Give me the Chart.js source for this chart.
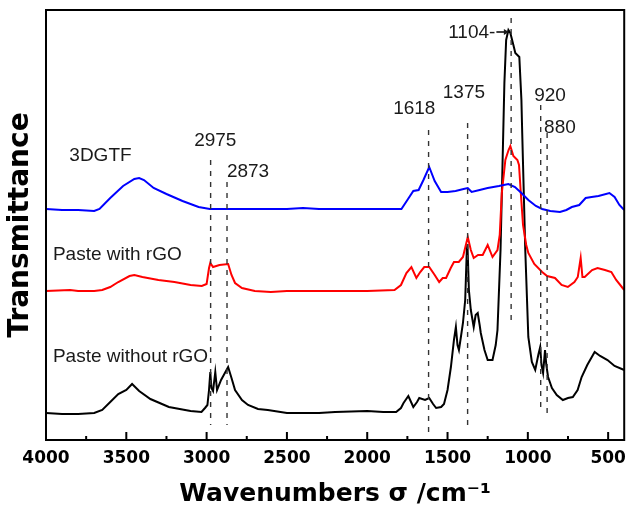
<!DOCTYPE html>
<html>
<head>
<meta charset="utf-8">
<script src="https://cdn.jsdelivr.net/npm/chart.js@4.4.1/dist/chart.umd.min.js"></script>
<style>
  html, body { margin: 0; padding: 0; background: #fff; }
  #wrap { width: 634px; height: 510px; }
</style>
</head>
<body>
<div id="wrap"><canvas id="ftir"></canvas></div>
<script>
'use strict';

// x axis ticks (cm-1)
const xTicks = [4000, 3500, 3000, 2500, 2000, 1500, 1000, 500];
const xMinorTicks = [3750, 3250, 2750, 2250, 1750, 1250, 750];

// 3DGTF (blue), transmittance in a.u.
const gtfWn = [4000, 3900, 3800, 3700, 3667, 3600, 3520, 3450, 3420, 3390, 3330, 3250, 3150, 3050, 2980, 2800, 2500, 2400, 2300, 2100, 1900, 1787, 1750, 1713, 1680, 1650, 1614, 1580, 1540, 1500, 1450, 1400, 1374, 1350, 1300, 1250, 1180, 1121, 1080, 1040, 997, 950, 911, 860, 800, 760, 726, 680, 640, 603, 560, 492, 460, 430, 400];
const gtfT = [231, 230, 230, 229, 231, 242, 254, 261, 262, 260, 252, 246, 239, 233, 231, 231, 231, 232, 231, 231, 231, 231, 240, 249, 250, 260, 273, 259, 248, 248, 249, 251, 252, 248, 250, 252, 254, 256, 253, 247, 240, 234, 231, 229, 228, 230, 233, 235, 242, 243, 244, 247, 243, 235, 230];

// Paste with rGO (red)
const withWn = [4000, 3850, 3800, 3700, 3650, 3600, 3550, 3480, 3450, 3400, 3300, 3200, 3100, 3030, 3000, 2985, 2977, 2960, 2920, 2866, 2845, 2823, 2780, 2700, 2600, 2500, 2300, 2000, 1830, 1790, 1756, 1725, 1694, 1670, 1645, 1614, 1580, 1552, 1530, 1509, 1480, 1460, 1430, 1404, 1374, 1355, 1337, 1310, 1281, 1250, 1220, 1189, 1175, 1162, 1140, 1120, 1109, 1090, 1065, 1055, 1045, 1030, 1010, 997, 960, 911, 880, 831, 790, 751, 710, 689, 671, 660, 646, 600, 566, 520, 480, 450, 400];
const withT = [149, 150, 149, 149, 150, 153, 158, 164, 165, 163, 160, 158, 155, 154, 156, 172, 177, 173, 175, 176, 165, 157, 152, 149, 148, 149, 149, 149, 150, 155, 167, 173, 162, 168, 173, 173, 165, 158, 162, 162, 172, 178, 178, 183, 203, 190, 182, 185, 185, 195, 183, 190, 205, 247, 280, 290, 294, 284, 280, 275, 250, 215, 195, 187, 176, 168, 164, 162, 155, 153, 158, 163, 182, 163, 163, 170, 172, 170, 168, 160, 150];

// Paste without rGO (black)
const withoutWn = [4000, 3900, 3800, 3700, 3650, 3600, 3550, 3500, 3464, 3420, 3350, 3235, 3100, 3032, 3010, 2995, 2985, 2977, 2970, 2960, 2946, 2935, 2910, 2866, 2845, 2823, 2780, 2742, 2680, 2619, 2500, 2300, 2200, 2000, 1900, 1820, 1790, 1774, 1744, 1713, 1690, 1676, 1640, 1614, 1590, 1571, 1540, 1522, 1500, 1479, 1460, 1448, 1438, 1429, 1415, 1404, 1390, 1380, 1376, 1367, 1355, 1337, 1325, 1312, 1300, 1293, 1270, 1250, 1220, 1200, 1189, 1170, 1158, 1146, 1135, 1121, 1109, 1090, 1078, 1053, 1040, 1035, 1016, 997, 975, 954, 935, 923, 915, 905, 893, 885, 874, 850, 820, 782, 750, 720, 690, 665, 630, 584, 550, 504, 460, 400];
const withoutT = [27, 26, 26, 27, 30, 38, 46, 50, 56, 49, 41, 33, 29, 28, 32, 35, 50, 68, 52, 49, 68, 50, 60, 73, 62, 50, 40, 35, 31, 30, 27, 27, 28, 29, 28, 28, 32, 37, 44, 33, 38, 42, 40, 42, 36, 32, 33, 36, 50, 73, 100, 113, 95, 90, 105, 117, 140, 190, 196, 150, 130, 113, 125, 127, 115, 107, 90, 80, 80, 95, 110, 190, 273, 357, 400, 410, 407, 395, 387, 383, 340, 307, 190, 103, 78, 70, 85, 93, 75, 67, 90, 75, 63, 52, 45, 40, 42, 43, 50, 63, 75, 88, 84, 80, 74, 70];

// marked bands: dashed guide lines
const peakWn = [2975, 2873, 1618, 1375, 1104, 920, 880];
const peakTop = [280, 258, 310, 317, 422, 335, 307];
const peakBottom = [15, 15, 4, 10, 115, 30, 24];

// band labels
const peakText = ['2975', '2873', '1618', '1375', '1104-', '920', '880'];
const peakLabelWn = [2946, 2742, 1707, 1398, 1349, 862, 800];
const peakLabelT = [299, 268, 331, 347, 407, 344, 312];

// series names written next to the curves
const seriesNames = ['3DGTF', 'Paste with rGO', 'Paste without rGO'];
const nameWn = [3661, 3957, 3957];
const nameT = [284, 185, 83];

function points(wn, t) {
  return wn.map((w, i) => ({ x: w, y: t[i] }));
}

const guideSets = peakWn.map((w, i) => ({
  label: 'band ' + w,
  data: [{ x: w, y: peakTop[i] }, { x: w, y: peakBottom[i] }],
  borderColor: '#333',
  borderWidth: 1.4,
  borderDash: [5, 6],
  pointRadius: 0
}));

const curveSets = [
  { label: seriesNames[0], data: points(gtfWn, gtfT), borderColor: '#0000ff' },
  { label: seriesNames[1], data: points(withWn, withT), borderColor: '#ff0000' },
  { label: seriesNames[2], data: points(withoutWn, withoutT), borderColor: '#000000' }
].map(d => Object.assign(d, { borderWidth: 2, pointRadius: 0, tension: 0 }));

// frame, inward ticks and in-plot texts
const overlay = {
  id: 'overlay',
  afterDatasetsDraw(chart) {
    const { ctx, chartArea: a, scales: { x, y } } = chart;
    ctx.save();
    ctx.strokeStyle = '#000';
    ctx.lineWidth = 2;
    ctx.beginPath();
    xTicks.forEach(v => {
      const px = x.getPixelForValue(v);
      ctx.moveTo(px, a.bottom);
      ctx.lineTo(px, a.bottom - 8);
    });
    xMinorTicks.forEach(v => {
      const px = x.getPixelForValue(v);
      ctx.moveTo(px, a.bottom);
      ctx.lineTo(px, a.bottom - 4);
    });
    ctx.stroke();
    ctx.strokeRect(a.left, a.top, a.right - a.left, a.bottom - a.top);

    ctx.fillStyle = '#1a1a1a';
    ctx.font = '19px "Liberation Sans", Arial, sans-serif';
    ctx.textBaseline = 'middle';
    ctx.textAlign = 'center';
    peakText.forEach((s, i) => {
      ctx.fillText(s, x.getPixelForValue(peakLabelWn[i]), y.getPixelForValue(peakLabelT[i]));
    });
    // little pointer from "1104-" to the top of the band
    const i4 = peakText.indexOf('1104-');
    const tx = x.getPixelForValue(peakLabelWn[i4]) + ctx.measureText(peakText[i4]).width / 2;
    const ty = y.getPixelForValue(peakLabelT[i4]) - 1;
    const ex = x.getPixelForValue(1118);
    ctx.lineWidth = 1.5;
    ctx.beginPath();
    ctx.moveTo(tx + 1, ty);
    ctx.lineTo(ex - 4, ty);
    ctx.stroke();
    ctx.beginPath();
    ctx.moveTo(ex, ty);
    ctx.lineTo(ex - 5, ty - 3);
    ctx.lineTo(ex - 5, ty + 3);
    ctx.closePath();
    ctx.fill();

    seriesNames.forEach((s, i) => {
      ctx.textAlign = i === 0 ? 'center' : 'left';
      ctx.fillText(s, x.getPixelForValue(nameWn[i]), y.getPixelForValue(nameT[i]));
    });
    ctx.restore();
  }
};

new Chart(document.getElementById('ftir'), {
  type: 'line',
  data: { datasets: guideSets.concat(curveSets) },
  options: {
    responsive: true,
    maintainAspectRatio: false,
    animation: false,
    layout: { padding: { top: 10, right: 4, left: 0, bottom: 0 } },
    scales: {
      x: {
        type: 'linear',
        reverse: true,
        min: 400,
        max: 4000,
        afterBuildTicks: (axis) => { axis.ticks = xTicks.map(v => ({ value: v })); },
        afterFit: (scale) => { scale.height = 70; },
        grid: { display: false, drawTicks: false },
        border: { display: false },
        ticks: {
          padding: 8,
          maxRotation: 0,
          autoSkip: false,
          color: '#000',
          callback: (v) => String(v),
          font: { family: '"DejaVu Sans", sans-serif', size: 17, weight: 'bold' }
        },
        title: {
          display: true,
          text: 'Wavenumbers \u03c3 /cm\u207b\u00b9',
          color: '#000',
          padding: { top: 0, bottom: 1 },
          font: { family: '"DejaVu Sans", sans-serif', size: 25, weight: 'bold' }
        }
      },
      y: {
        min: 0,
        max: 430,
        afterFit: (scale) => { scale.width = 46; },
        grid: { display: false, drawTicks: false },
        border: { display: false },
        ticks: { display: false },
        title: {
          display: true,
          text: 'Transmittance',
          color: '#000',
          padding: { top: 4, bottom: 0 },
          font: { family: '"DejaVu Sans", sans-serif', size: 28, weight: 'bold' }
        }
      }
    },
    plugins: {
      legend: { display: false },
      tooltip: { enabled: false }
    }
  },
  plugins: [overlay]
});
</script>
</body>
</html>
